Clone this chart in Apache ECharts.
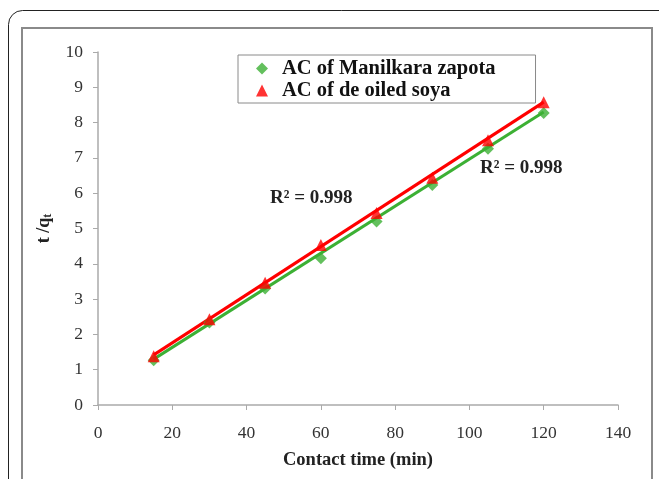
<!DOCTYPE html>
<html>
<head>
<meta charset="utf-8">
<script src="https://cdn.jsdelivr.net/npm/echarts@6/dist/echarts.min.js"></script>
<style>html,body{margin:0;padding:0;background:#fff;}#c{width:659px;height:479px;}</style>
</head>
<body>
<div id="c"></div>
<script>
var times = [15, 30, 45, 60, 75, 90, 105, 120];
var manilkara = [1.27, 2.34, 3.30, 4.16, 5.20, 6.23, 7.26, 8.27];
var soya = [1.38, 2.43, 3.46, 4.53, 5.44, 6.44, 7.50, 8.58];
var trendX = [15, 120];
var manilkaraTrend = [1.30, 8.30];
var soyaTrend = [1.42, 8.58];
var seriesNames = ['AC of Manilkara zapota', 'AC of de oiled soya'];
var r2Labels = ['R² = 0.998', 'R² = 0.998'];

function pairs(xs, ys) { return xs.map(function (x, i) { return [x, ys[i]]; }); }

var serif = '"Liberation Serif", "Times New Roman", serif';
var green = '#3cb034';
var red = '#ff0000';

var chart = echarts.init(document.getElementById('c'));
chart.setOption({
  animation: false,
  backgroundColor: '#fff',
  grid: { left: 98, right: 41, top: 52, bottom: 74 },
  legend: {
    left: 238, top: 55,
    orient: 'vertical',
    padding: [3, 40, 2, 18],
    itemGap: 1,
    itemWidth: 12, itemHeight: 12,
    borderColor: '#8a8a8a', borderWidth: 1,
    backgroundColor: '#fff',
    textStyle: { fontFamily: serif, fontWeight: 'bold', fontSize: 20.5, color: '#111', padding: [0, 0, 0, 9] },
    data: [
      { name: seriesNames[0], icon: 'diamond' },
      { name: seriesNames[1], icon: 'triangle' }
    ]
  },
  xAxis: {
    type: 'value', min: 0, max: 140, interval: 20,
    name: 'Contact time (min)', nameLocation: 'middle', nameGap: 46,
    nameTextStyle: { fontFamily: serif, fontWeight: 'bold', fontSize: 18.5, color: '#222' },
    axisLine: { lineStyle: { color: '#aaa', width: 1.5 } },
    axisTick: { show: true, length: 5, lineStyle: { color: '#aaa' } },
    axisLabel: { fontFamily: serif, fontSize: 17.5, color: '#333', margin: 19 },
    splitLine: { show: false }
  },
  yAxis: {
    type: 'value', min: 0, max: 10, interval: 1,
    name: '{a|t /q}{b|t}', nameLocation: 'middle', nameGap: 44, nameRotate: 90,
    nameTextStyle: {
      rich: {
        a: { fontFamily: serif, fontWeight: 'bold', fontSize: 18, color: '#222' },
        b: { fontFamily: serif, fontWeight: 'bold', fontSize: 12, color: '#222', padding: [7, 0, 0, 0] }
      }
    },
    axisLine: { show: true, lineStyle: { color: '#aaa', width: 1.5 } },
    axisTick: { show: true, length: 5, lineStyle: { color: '#aaa' } },
    axisLabel: { fontFamily: serif, fontSize: 17.5, color: '#333', margin: 15 },
    splitLine: { show: false }
  },
  series: [
    {
      name: seriesNames[0] + ' trend', type: 'line', data: pairs(trendX, manilkaraTrend),
      symbol: 'none', lineStyle: { color: green, width: 3 }, z: 2, silent: true
    },
    {
      name: seriesNames[1] + ' trend', type: 'line', data: pairs(trendX, soyaTrend),
      symbol: 'none', lineStyle: { color: red, width: 3 }, z: 2, silent: true
    },
    {
      name: seriesNames[0], type: 'scatter', data: pairs(times, manilkara),
      symbol: 'diamond', symbolSize: 12, itemStyle: { color: green }, z: 3
    },
    {
      name: seriesNames[1], type: 'scatter', data: pairs(times, soya),
      symbol: 'triangle', symbolSize: 12, itemStyle: { color: red }, z: 3
    }
  ],
  graphic: [
    { type: 'rect', shape: { x: 8.5, y: 10.5, width: 680, height: 520, r: 14 },
      style: { fill: 'none', stroke: '#222', lineWidth: 1 }, z: 0 },
    { type: 'rect', shape: { x: 22, y: 28, width: 630, height: 500 },
      style: { fill: 'none', stroke: '#8a8a8a', lineWidth: 2 }, z: 0 },
    { type: 'text', left: 270, top: 189,
      style: { text: r2Labels[0], font: 'bold 19px ' + serif, fill: '#222' } },
    { type: 'text', left: 480, top: 159,
      style: { text: r2Labels[1], font: 'bold 19px ' + serif, fill: '#222' } }
  ]
});
</script>
</body>
</html>
